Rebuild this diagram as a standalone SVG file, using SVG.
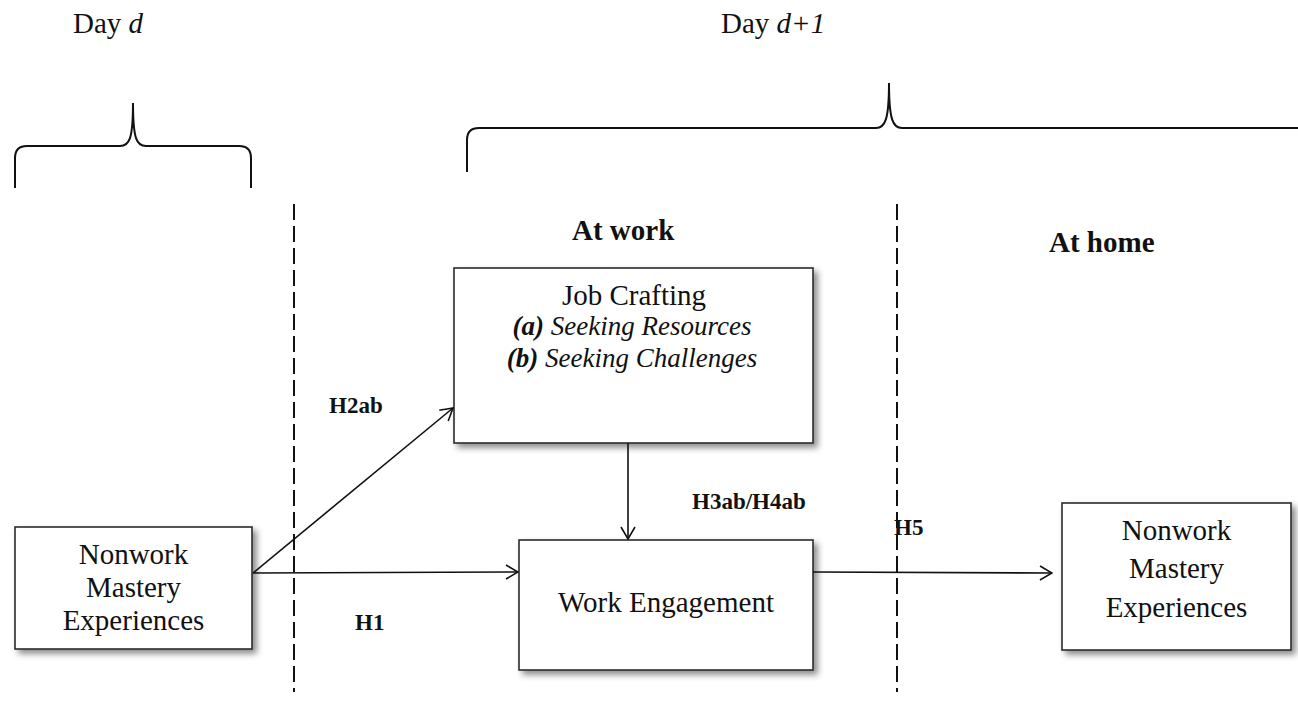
<svg xmlns="http://www.w3.org/2000/svg" width="1298" height="717" viewBox="0 0 1298 717">
<defs>
<style>
.t{font-family:"Liberation Serif","Times New Roman",serif;fill:#111;}
.n{font-size:29px;}
.h{font-size:23px;font-weight:bold;}
.box{fill:#fff;stroke:#2a2a2a;stroke-width:1.6;}
.dash{stroke:#111;stroke-width:2;stroke-dasharray:16 6;fill:none;}
.brace{stroke:#111;stroke-width:2;fill:none;}
.conn{stroke:#111;stroke-width:1.6;fill:none;marker-end:url(#arr);}
</style>
<filter id="sh" x="-10%" y="-10%" width="130%" height="130%">
<feDropShadow dx="4" dy="4" stdDeviation="3" flood-color="#000" flood-opacity="0.45"/>
</filter>
<marker id="arr" viewBox="0 0 14 16" refX="13" refY="8" markerWidth="14" markerHeight="16" markerUnits="userSpaceOnUse" orient="auto">
<path d="M1,1 L13,8 L1,15" fill="none" stroke="#111" stroke-width="1.6"/>
</marker>
</defs>
<rect width="1298" height="717" fill="#fff"/>

<g id="labels-top">
<text class="t n" x="73" y="33">Day <tspan font-style="italic">d</tspan></text>
<text class="t n" x="721" y="33">Day <tspan font-style="italic">d+1</tspan></text>
<text class="t n" x="572" y="240" font-weight="bold">At work</text>
<text class="t n" x="1049" y="252" font-weight="bold">At home</text>
</g>

<g id="braces">
<path class="brace" d="M15,188 L15,158 Q15,146 27,146 L120,146 C129,146 133,140 133,103 C133,140 137,146 146,146 L239,146 Q251,146 251,158 L251,188"/>
<path class="brace" d="M467,172 L467,140 Q467,128 479,128 L876,128 C885,128 889,120 889,83 C889,120 893,128 902,128 L1300,128"/>
</g>

<g id="separators">
<line class="dash" x1="294" y1="204" x2="294" y2="692"/>
<line class="dash" x1="897" y1="204" x2="897" y2="692"/>
</g>

<g id="node-nonwork-d">
<rect class="box" x="15" y="527" width="237" height="122" filter="url(#sh)"/>
<text class="t n" x="133.5" y="564" text-anchor="middle">Nonwork</text>
<text class="t n" x="133.5" y="597" text-anchor="middle">Mastery</text>
<text class="t n" x="133.5" y="630" text-anchor="middle">Experiences</text>
</g>

<g id="node-jobcrafting">
<rect class="box" x="454" y="268" width="359" height="175" filter="url(#sh)"/>
<text class="t n" x="634" y="305" text-anchor="middle">Job Crafting</text>
<text class="t" x="632" y="335" text-anchor="middle" font-size="27" font-style="italic"><tspan font-weight="bold">(a)</tspan> Seeking Resources</text>
<text class="t" x="632" y="367" text-anchor="middle" font-size="27" font-style="italic"><tspan font-weight="bold">(b)</tspan> Seeking Challenges</text>
</g>

<g id="node-engagement">
<rect class="box" x="519" y="540" width="294" height="130" filter="url(#sh)"/>
<text class="t n" x="666" y="612" text-anchor="middle">Work Engagement</text>
</g>

<g id="node-nonwork-d1">
<rect class="box" x="1062" y="503" width="229" height="147" filter="url(#sh)"/>
<text class="t n" x="1176.5" y="540" text-anchor="middle">Nonwork</text>
<text class="t n" x="1176.5" y="578" text-anchor="middle">Mastery</text>
<text class="t n" x="1176.5" y="617" text-anchor="middle">Experiences</text>
</g>

<g id="connectors">
<line class="conn" x1="253" y1="573" x2="453" y2="408"/>
<line class="conn" x1="253" y1="573" x2="518" y2="572"/>
<line class="conn" x1="628" y1="443" x2="628" y2="539"/>
<line class="conn" x1="813" y1="572" x2="1052" y2="573"/>
</g>

<g id="edge-labels">
<text class="t h" x="329" y="413">H2ab</text>
<text class="t h" x="355" y="630">H1</text>
<text class="t h" x="692" y="509">H3ab/H4ab</text>
<text class="t h" x="894" y="535">H5</text>
</g>
</svg>
